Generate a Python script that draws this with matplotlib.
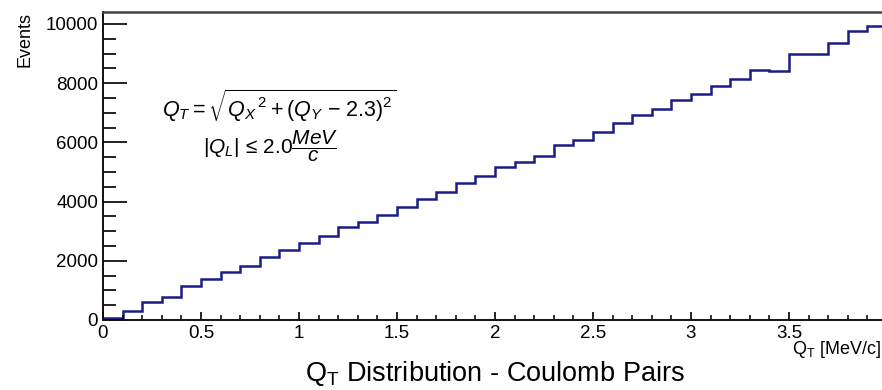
import numpy as np
import matplotlib
matplotlib.use("Agg")
import matplotlib.pyplot as plt
from matplotlib.ticker import MultipleLocator

plt.rcParams['font.family'] = ['Liberation Sans', 'DejaVu Sans']
plt.rcParams['mathtext.fontset'] = 'custom'
plt.rcParams['mathtext.rm'] = 'Liberation Sans'
plt.rcParams['mathtext.it'] = 'Liberation Sans:italic'
plt.rcParams['mathtext.bf'] = 'Liberation Sans:bold'

# ---- data ----
bin_low = 0.0
bin_high = 4.0
bin_width = 0.1
events = [60, 315, 610, 790, 1150, 1380, 1615, 1830, 2125, 2360,
          2600, 2825, 3130, 3300, 3560, 3810, 4090, 4330, 4630, 4880,
          5160, 5350, 5540, 5910, 6090, 6355, 6670, 6940, 7120, 7430,
          7630, 7910, 8125, 8440, 8400, 9000, 8980, 9360, 9750, 9940]
x_ticks = [0, 0.5, 1, 1.5, 2, 2.5, 3, 3.5]
x_tick_labels = ['0', '0.5', '1', '1.5', '2', '2.5', '3', '3.5']
y_ticks = [0, 2000, 4000, 6000, 8000, 10000]
y_tick_labels = ['0', '2000', '4000', '6000', '8000', '10000']

edges = np.arange(len(events) + 1) * bin_width + bin_low

W, H = 882, 390
fig = plt.figure(figsize=(W / 100, H / 100), dpi=100)
ax_l, ax_r, ax_t, ax_b = 103, 887, 12, 320
ax = fig.add_axes([ax_l / W, 1 - ax_b / H, (ax_r - ax_l) / W, (ax_b - ax_t) / H])

ax.stairs(events, edges, color='#1c1c88', linewidth=1.8, baseline=0)

ax.set_xlim(bin_low, bin_high)
ax.set_ylim(0, 10405)
ax.set_xticks(x_ticks)
ax.set_xticklabels(x_tick_labels)
ax.set_yticks(y_ticks)
ax.set_yticklabels(y_tick_labels)
ax.xaxis.set_minor_locator(MultipleLocator(0.1))
ax.yaxis.set_minor_locator(MultipleLocator(500))

ax.tick_params(axis='y', which='major', direction='in', length=17.5, width=1.3,
               labelsize=13.5, pad=3.5, color='#111111')
ax.tick_params(axis='y', which='minor', direction='in', length=9, width=1.3, color='#111111')
ax.tick_params(axis='x', which='major', direction='in', length=6, width=1.3,
               labelsize=13.5, pad=3.5, color='#111111')
ax.tick_params(axis='x', which='minor', direction='in', length=3.6, width=1.2, color='#111111')

for s in ['left', 'bottom']:
    ax.spines[s].set_linewidth(1.4)
    ax.spines[s].set_color('#111111')
ax.spines['top'].set_linewidth(1.8)
ax.spines['top'].set_color('#444444')
ax.spines['right'].set_linewidth(1.8)
ax.spines['right'].set_color('#444444')

# axis titles (ROOT style)
fig.text(25 / W, 1 - 12 / H, 'Events', rotation=90, ha='center', va='top', fontsize=13)
fig.text(881 / W, 1 - 350 / H, r'Q$_{\mathregular{T}}$ [MeV/c]', ha='right', va='center', fontsize=13)
fig.text((ax_l + ax_r) / 2 / W, 1 - 373 / H, r'Q$_{\mathregular{T}}$ Distribution - Coulomb Pairs',
         ha='center', va='center', fontsize=19.5)

# formula annotations
fig.text(162 / W, 1 - 117 / H,
         r'$Q_{T} = \sqrt{Q_{X}\,{}^{\mathregular{2}} + (Q_{Y}\ \mathregular{-}\ \mathregular{2.3})^{\mathregular{2}}}$',
         ha='left', va='baseline', fontsize=15.5)
fig.text(203 / W, 1 - 154 / H,
         r'$\mathregular{|}Q_{L}\mathregular{|}\,\leq\,\mathregular{2.0}\dfrac{MeV}{c}$',
         ha='left', va='baseline', fontsize=15)

fig.savefig('out.png', dpi=100)
